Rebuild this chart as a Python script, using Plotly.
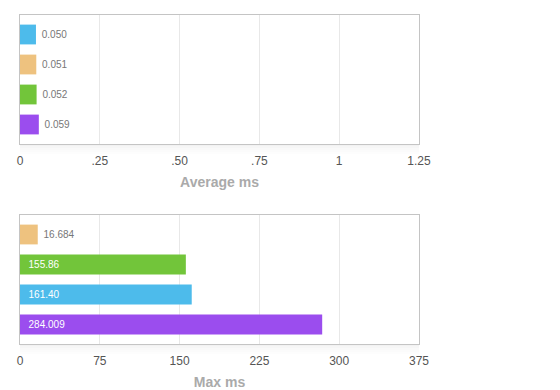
import plotly.graph_objects as go

# ---- data ----
avg_items = ["Series A", "Series B", "Series C", "Series D"]
avg_values = [0.050, 0.051, 0.052, 0.059]
avg_labels = ["0.050", "0.051", "0.052", "0.059"]
avg_colors = ["#4DBBEB", "#EEC27F", "#72C53A", "#9B4DEE"]

max_items = ["Series B", "Series C", "Series A", "Series D"]
max_values = [16.684, 155.86, 161.40, 284.009]
max_labels = ["16.684", "155.86", "161.40", "284.009"]
max_colors = ["#EEC27F", "#72C53A", "#4DBBEB", "#9B4DEE"]

avg_ticks = [0, 0.25, 0.5, 0.75, 1, 1.25]
avg_ticktext = ["0", ".25", ".50", ".75", "1", "1.25"]
max_ticks = [0, 75, 150, 225, 300, 375]
max_ticktext = ["0", "75", "150", "225", "300", "375"]

NB = "\u00a0"
FONT = "Liberation Sans"

def positions(values, rng):
    return ["inside" if v > 0.2 * rng else "outside" for v in values]

def texts(values, labels, rng):
    return [(NB * 2 + l) if v > 0.2 * rng else NB + l for v, l in zip(values, labels)]

fig = go.Figure()

def add_bars(values, items, labels, colors, rng, xa, ya):
    fig.add_trace(go.Bar(
        x=values, y=items, orientation="h",
        marker=dict(color=colors, line=dict(width=0)),
        width=0.66,
        text=texts(values, labels, rng),
        textposition=positions(values, rng),
        insidetextanchor="start",
        textfont=dict(size=10, family=FONT),
        outsidetextfont=dict(size=10, color="#777777", family=FONT),
        insidetextfont=dict(size=10, color="#ffffff", family=FONT),
        xaxis=xa, yaxis=ya, showlegend=False, cliponaxis=False,
        hoverinfo="x+y",
    ))

add_bars(avg_values, avg_items, avg_labels, avg_colors, avg_ticks[-1], "x", "y")
add_bars(max_values, max_items, max_labels, max_colors, max_ticks[-1], "x2", "y2")

axis_common = dict(
    showgrid=True, gridcolor="#e8e8e8", gridwidth=1,
    zeroline=False, showline=True, linecolor="#c4c4c4", linewidth=1, mirror=True,
    ticks="outside", ticklen=6, tickcolor="rgba(0,0,0,0)",
    tickfont=dict(size=12, color="#555555", family=FONT),
    title_font=dict(size=14, color="#aaaaaa", family=FONT),
    title_standoff=9,
)
yaxis_common = dict(
    showticklabels=False, showgrid=False, zeroline=False,
    showline=True, linecolor="#c4c4c4", linewidth=1, mirror=True,
    autorange=False, range=[3.65, -0.65], type="category",
)

# faint shadow below each plot area
shapes = []
for ya in ("y", "y2"):
    xa = "x" if ya == "y" else "x2"
    for i, op in enumerate([0.05, 0.035, 0.025, 0.015, 0.008]):
        shapes.append(dict(
            type="rect", xref=f"{xa} domain", yref=f"{ya} domain",
            x0=0, x1=1, y0=-(i + 1) * 2 / 129, y1=-i * 2 / 129,
            fillcolor="black", opacity=op, line=dict(width=0), layer="below",
        ))

# page body has an 8px default margin: figure placed at (8, 8)
fig.update_layout(
    template="none",
    width=552, height=382,
    margin=dict(l=12, r=141, t=7, b=46, autoexpand=False),
    paper_bgcolor="white", plot_bgcolor="white",
    font=dict(family=FONT, color="#555555"),
    xaxis=dict(axis_common, range=[avg_ticks[0], avg_ticks[-1]], tickvals=avg_ticks,
               ticktext=avg_ticktext, anchor="y", title_text="<b>Average ms</b>"),
    yaxis=dict(yaxis_common, domain=[200 / 329, 1.0], anchor="x"),
    xaxis2=dict(axis_common, range=[max_ticks[0], max_ticks[-1]], tickvals=max_ticks,
                ticktext=max_ticktext, anchor="y2", title_text="<b>Max ms</b>"),
    yaxis2=dict(yaxis_common, domain=[0, 129 / 329], anchor="x2"),
    shapes=shapes,
)

fig.write_html("out.html")
